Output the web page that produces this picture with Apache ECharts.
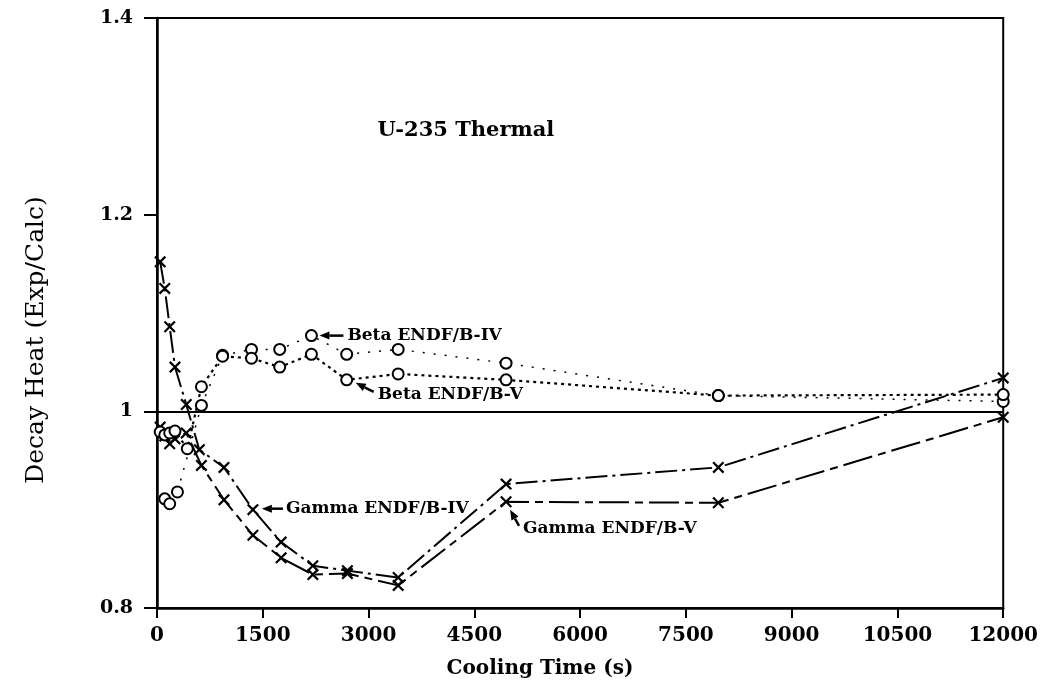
<!DOCTYPE html>
<html>
<head>
<meta charset="utf-8">
<script src="https://cdn.jsdelivr.net/npm/echarts@6/dist/echarts.min.js"></script>
<style>
html,body{margin:0;padding:0;background:#fff;}
#chart{width:1041px;height:690px;}
</style>
</head>
<body>
<div id="chart"></div>
<script>
// ---- data ----
const xTicks = [0, 1500, 3000, 4500, 6000, 7500, 9000, 10500, 12000];
const yTicks = [0.8, 1, 1.2, 1.4];

const gammaIVTime  = [45, 110, 180, 255, 415, 600, 950, 1360, 1760, 2210, 2700, 3420, 4950, 7960, 12000];
const gammaIVValue = [1.152, 1.125, 1.086, 1.045, 1.007, 0.961, 0.943, 0.900, 0.867, 0.843, 0.838, 0.831, 0.926, 0.943, 1.034];

const gammaVTime  = [45, 110, 180, 255, 415, 630, 950, 1360, 1760, 2210, 2700, 3420, 4950, 7960, 12000];
const gammaVValue = [0.984, 0.975, 0.967, 0.972, 0.978, 0.945, 0.910, 0.874, 0.851, 0.834, 0.835, 0.823, 0.908, 0.907, 0.994];

const betaIVTime  = [110, 180, 290, 630, 930, 1340, 1740, 2190, 2690, 3420, 4950, 7960, 12000];
const betaIVValue = [0.911, 0.906, 0.918, 1.006, 1.057, 1.063, 1.063, 1.077, 1.058, 1.063, 1.049, 1.016, 1.010];

const betaVTime  = [45, 110, 180, 255, 430, 630, 930, 1340, 1740, 2190, 2690, 3420, 4950, 7960, 12000];
const betaVValue = [0.979, 0.976, 0.978, 0.980, 0.962, 1.025, 1.056, 1.054, 1.045, 1.058, 1.032, 1.038, 1.032, 1.016, 1.017];

const referenceLevel = 1;
const titleText = 'U-235 Thermal';
const xName = 'Cooling Time (s)';
const yName = 'Decay Heat (Exp/Calc)';
const labels = {
  betaIV: 'Beta ENDF/B-IV',
  betaV: 'Beta ENDF/B-V',
  gammaIV: 'Gamma ENDF/B-IV',
  gammaV: 'Gamma ENDF/B-V'
};

// ---- chart ----
const FONT = "'DejaVu Serif', 'Liberation Serif', serif";
const zip = (t, v) => t.map((x, i) => [x, v[i]]);
const CROSS = 'path://M0,1.3L1.3,0L5,3.7L8.7,0L10,1.3L6.3,5L10,8.7L8.7,10L5,6.3L1.3,10L0,8.7L3.7,5Z';

const chart = echarts.init(document.getElementById('chart'), null, {renderer: 'canvas'});

const option = {
  animation: false,
  backgroundColor: '#fff',
  grid: {left: 157, right: 37, top: 18, bottom: 82, show: true, borderColor: '#000', borderWidth: 2, containLabel: false},
  xAxis: {
    type: 'value', min: xTicks[0], max: xTicks[xTicks.length - 1], interval: 1500,
    axisLine: {show: true, onZero: false, lineStyle: {color: '#000', width: 2.5}},
    axisTick: {show: true, length: 10, lineStyle: {color: '#000', width: 2}},
    axisLabel: {color: '#000', fontFamily: FONT, fontWeight: 'bold', fontSize: 20, margin: 18,
      formatter: v => String(v)},
    splitLine: {show: false}
  },
  yAxis: {
    type: 'value', min: yTicks[0], max: yTicks[yTicks.length - 1], interval: 0.2,
    axisLine: {show: true, onZero: false, lineStyle: {color: '#000', width: 2.5}},
    axisTick: {show: true, length: 13, lineStyle: {color: '#000', width: 2}},
    axisLabel: {color: '#000', fontFamily: FONT, fontWeight: 'bold', fontSize: 19, margin: 24,
      formatter: v => String(Math.round(v * 10) / 10)},
    splitLine: {show: false}
  },
  series: [
    {
      name: labels.gammaIV, type: 'line', data: zip(gammaIVTime, gammaIVValue),
      symbol: CROSS, symbolSize: 12, showAllSymbol: true,
      itemStyle: {color: '#000'},
      lineStyle: {color: '#000', width: 2, type: [22, 5, 3, 5]},
      markLine: {
        silent: true, symbol: 'none', label: {show: false},
        lineStyle: {color: '#000', width: 2, type: 'solid'},
        data: [{yAxis: referenceLevel}]
      },
      z: 3
    },
    {
      name: labels.gammaV, type: 'line', data: zip(gammaVTime, gammaVValue),
      symbol: CROSS, symbolSize: 12, showAllSymbol: true,
      itemStyle: {color: '#000'},
      lineStyle: {color: '#000', width: 2, type: [30, 6, 8, 6]},
      z: 3
    },
    {
      name: labels.betaIV, type: 'line', data: zip(betaIVTime, betaIVValue),
      symbol: 'emptyCircle', symbolSize: 11, showAllSymbol: true,
      itemStyle: {color: '#000', borderColor: '#000', borderWidth: 2},
      lineStyle: {color: '#000', width: 1.5, type: [2, 9]},
      z: 4
    },
    {
      name: labels.betaV, type: 'line', data: zip(betaVTime, betaVValue),
      symbol: 'emptyCircle', symbolSize: 11, showAllSymbol: true,
      itemStyle: {color: '#000', borderColor: '#000', borderWidth: 2},
      lineStyle: {color: '#000', width: 2.2, type: [3, 4]},
      z: 4
    }
  ]
};
chart.setOption(option);

// ---- annotations, positioned through the chart's own scales ----
function px(t, v) { return chart.convertToPixel({gridIndex: 0}, [t, v]); }
function arrow(tip, tail) {
  const dx = tip[0] - tail[0], dy = tip[1] - tail[1];
  const len = Math.sqrt(dx * dx + dy * dy);
  const ux = dx / len, uy = dy / len;
  const hl = 10, hw = 4;
  const bx = tip[0] - ux * hl, by = tip[1] - uy * hl;
  return [
    {type: 'line', shape: {x1: tail[0], y1: tail[1], x2: bx, y2: by}, style: {stroke: '#000', lineWidth: 2.5}},
    {type: 'polygon', shape: {points: [tip, [bx - uy * hw, by + ux * hw], [bx + uy * hw, by - ux * hw]]}, style: {fill: '#000'}}
  ];
}
const lblStyle = (txt, x, y, align) => ({
  type: 'text', x: x, y: y,
  style: {text: txt, fill: '#000', font: 'bold 17px ' + FONT, textAlign: align || 'left', textVerticalAlign: 'middle'}
});

const aBIV = px(betaIVTime[7], betaIVValue[7]);
const aBV = px(betaVTime[10], betaVValue[10]);
const aGIV = px(gammaIVTime[7], gammaIVValue[7]);
const aGV = px(gammaVTime[12], gammaVValue[12]);
const tPos = px(4380, 1.286);
const g = [];
g.push(...arrow([aBIV[0] + 8, aBIV[1]], [aBIV[0] + 32, aBIV[1]]));
g.push(lblStyle(labels.betaIV, aBIV[0] + 36, aBIV[1]));
g.push(...arrow([aBV[0] + 9, aBV[1] + 3], [aBV[0] + 27, aBV[1] + 12]));
g.push(lblStyle(labels.betaV, aBV[0] + 31, aBV[1] + 15));
g.push(...arrow([aGIV[0] + 9, aGIV[1] - 1], [aGIV[0] + 30, aGIV[1] - 1]));
g.push(lblStyle(labels.gammaIV, aGIV[0] + 33, aGIV[1] - 1));
g.push(...arrow([aGV[0] + 4, aGV[1] + 8], [aGV[0] + 13, aGV[1] + 24]));
g.push(lblStyle(labels.gammaV, aGV[0] + 17, aGV[1] + 27));
g.push({type: 'text', x: tPos[0], y: tPos[1],
  style: {text: titleText, fill: '#000', font: 'bold 21px ' + FONT, textAlign: 'center', textVerticalAlign: 'middle'}});
g.push({type: 'text', x: 540, y: 669,
  style: {text: xName, fill: '#000', font: 'bold 20px ' + FONT, textAlign: 'center', textVerticalAlign: 'middle'}});
g.push({type: 'text', x: 36, y: 340, rotation: Math.PI / 2,
  style: {text: yName, fill: '#000', font: '25px ' + FONT, textAlign: 'center', textVerticalAlign: 'middle'}});
chart.setOption({graphic: g});
</script>
</body>
</html>
